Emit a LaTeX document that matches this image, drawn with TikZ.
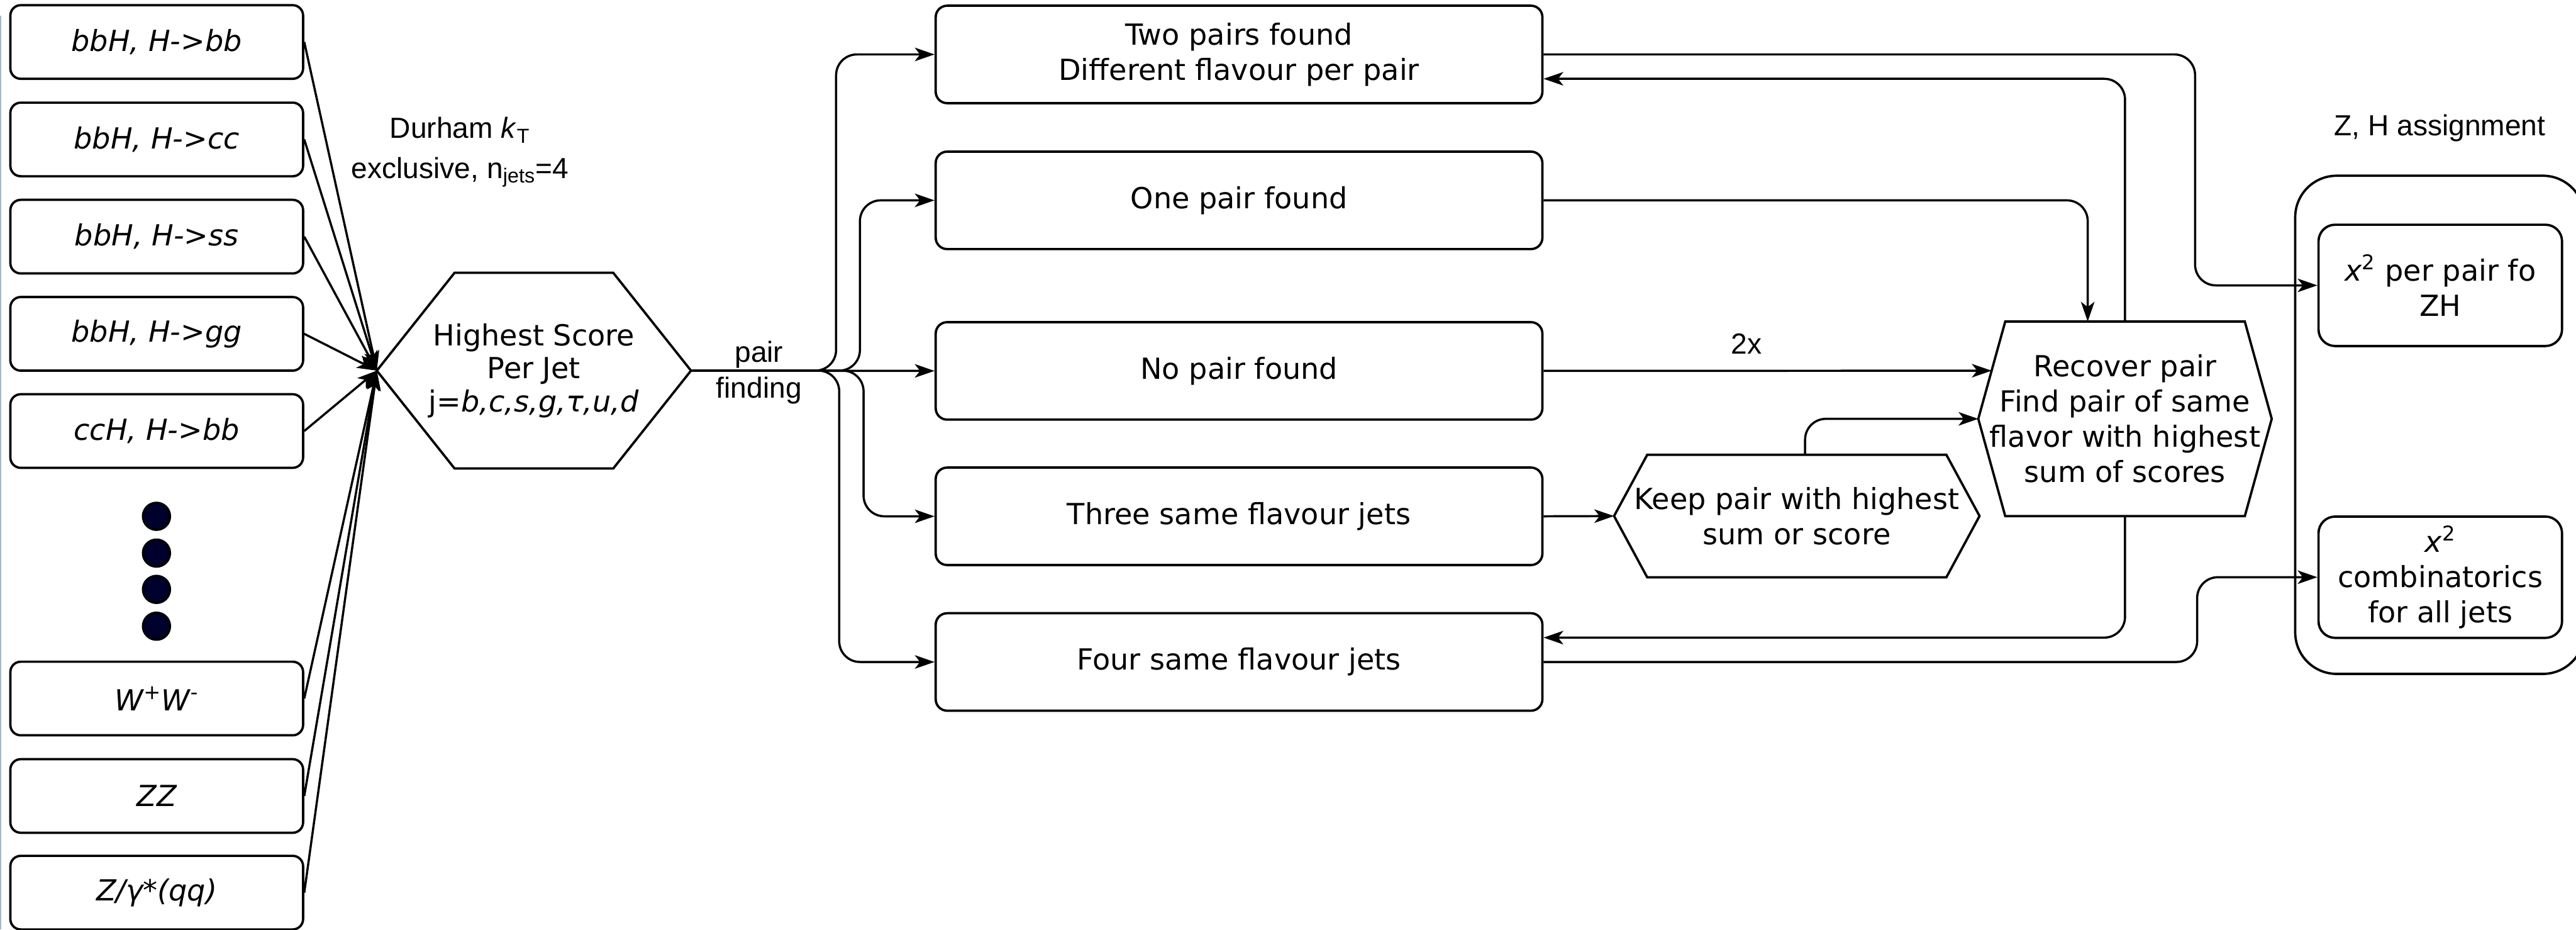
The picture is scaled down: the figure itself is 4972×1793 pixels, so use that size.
\documentclass[tikz,border=0pt]{standalone}
\usepackage{fontspec}
\setmainfont{DejaVu Sans}
\newfontfamily\labfont{Liberation Sans}
\usetikzlibrary{arrows.meta,calc}
\definecolor{navydot}{RGB}{0,0,45}
\definecolor{edgeart}{RGB}{160,185,205}
\newcommand\bxf{\fontsize{15.94pt}{19.35pt}\selectfont}
\newcommand\bxs{\fontsize{15.94pt}{18.2pt}\selectfont}
\newcommand\lbf{\labfont\fontsize{15.94pt}{19.35pt}\selectfont}
\begin{document}
\begin{tikzpicture}[x=0.1mm,y=-0.1mm,
  ln/.style={line width=0.45mm},
  inbox/.style={draw, line width=0.45mm, rounded corners=2mm, minimum width=56.5mm, minimum height=14.2mm, inner sep=0pt, font=\bxf\itshape, align=center},
  midbox/.style={draw, line width=0.45mm, rounded corners=2.2mm, minimum width=117.1mm, minimum height=18.8mm, inner sep=0pt, font=\bxf, align=center},
  zhb/.style={draw, line width=0.45mm, rounded corners=3.2mm, minimum width=47mm, minimum height=23.4mm, inner sep=0pt, font=\bxf, align=center},
  hexn/.style={inner sep=0pt, font=\bxf, align=center},
  conn/.style={line width=0.42mm, -{Stealth[length=3.8mm,width=2.6mm,inset=1mm]}, rounded corners=4mm},
  lab/.style={font=\lbf, inner sep=0pt},
  dotn/.style={circle, draw, line width=0.45mm, fill=navydot, minimum size=5.2mm, inner sep=0pt}
]
\useasboundingbox (0,0) rectangle (4972,1793);
\clip (0,0) rectangle (4972,1793);
\fill[white] (0,0) rectangle (4972,1793);
\draw[line width=0.3mm, edgeart] (1.5,30) -- (1.5,1793);

% input samples
\node[inbox] (b1) at (302.5,81) {bbH, H->bb};
\node[inbox] (b2) at (302.5,269) {bbH, H->cc};
\node[inbox] (b3) at (302.5,456.5) {bbH, H->ss};
\node[inbox] (b4) at (302.5,644) {bbH, H->gg};
\node[inbox] (b5) at (302.5,831.5) {ccH, H->bb};
\node[inbox] (b6) at (302.5,1347.5) {W\textsuperscript{+}W\textsuperscript{-}};
\node[inbox] (b7) at (302.5,1535.5) {ZZ};
\node[inbox] (b8) at (302.5,1722) {Z/γ*(qq)};
\node[dotn] (d1) at (302,996) {};
\node[dotn] (d2) at (302,1067) {};
\node[dotn] (d3) at (302,1137) {};
\node[dotn] (d4) at (302,1208) {};

% highest score hexagon
\node[hexn, font=\bxs, minimum width=60.5mm, minimum height=37.6mm] (score) at (1030.5,715) {Highest Score\\Per Jet\\j=\textit{b,c,s,g,τ,u,d}};
\draw[ln] (score.west) -- ($(score.north west)+(150,0)$) -- ($(score.north east)+(-150,0)$) -- (score.east) -- ($(score.south east)+(-150,0)$) -- ($(score.south west)+(150,0)$) -- cycle;

\node[lab, anchor=base] (dur1) at (888,267) {Durham \textit{k}\textsubscript{T}};
\node[lab, anchor=base] (dur2) at (888,344) {exclusive, n\textsubscript{jets}=4};
\node[lab, anchor=base] (pf1) at (1465,698) {pair};
\node[lab, anchor=base] (pf2) at (1465,768) {finding};

% middle boxes
\node[midbox] (two) at (2391.5,105) {Two pairs found\\Different flavour per pair};
\node[midbox] (one) at (2391.5,386.5) {One pair found};
\node[midbox] (none) at (2391.5,715.5) {No pair found};
\node[midbox] (three) at (2391.5,996) {Three same flavour jets};
\node[midbox] (four) at (2391.5,1277) {Four same flavour jets};

% keep hexagon
\node[hexn, minimum width=70.4mm, minimum height=23.5mm] (keep) at (3468,995.5) {Keep pair with highest\\sum or score};
\draw[ln] (keep.west) -- ($(keep.north west)+(64,0)$) -- ($(keep.north east)+(-64,0)$) -- (keep.east) -- ($(keep.south east)+(-64,0)$) -- ($(keep.south west)+(64,0)$) -- cycle;

% recover hexagon
\node[hexn, minimum width=56.5mm, minimum height=37.4mm] (recover) at (4101.5,808) {Recover pair\\Find pair of same\\flavor with highest\\sum of scores};
\draw[ln] (recover.west) -- ($(recover.north west)+(52,0)$) coordinate (rNW) -- ($(recover.north east)+(-52,0)$) -- (recover.east) -- ($(recover.south east)+(-52,0)$) -- ($(recover.south west)+(52,0)$) -- cycle;
\coordinate (rin) at ($(recover.west)!0.495!(rNW)$);

\node[lab, anchor=base] (twox) at (3371,683) {2x};

% Z,H assignment
\node[lab, anchor=base] (zhlab) at (4709,262) {Z, H assignment};
\draw[ln, rounded corners=8mm] (4430,339) rectangle (4988,1300);
\node[zhb] (zh) at (4710,550.5) {\textit{x}\textsuperscript{2} per pair fo\\ZH};
\node[zhb] (comb) at (4710,1113.5) {\textit{x}\textsuperscript{2}\\combinatorics\\for all jets};

% connectors
\foreach \b in {b1,b2,b3,b4,b5,b6,b7,b8} \draw[conn] (\b.east) -- (score.west);
\draw[conn] (score.east) -| ([xshift=-19mm]two.west) -- (two.west);
\draw[conn] (score.east) -| ([xshift=-14.4mm]one.west) -- (one.west);
\draw[conn] (score.east) -- (none.west);
\draw[conn] (score.east) -| ([xshift=-13.7mm]three.west) -- (three.west);
\draw[conn] (score.east) -| ([xshift=-18.4mm]four.west) -- (four.west);

\draw[conn] (two.east) -| ([xshift=-23.6mm]zh.west) -- (zh.west);
\draw[conn] (recover.north) |- ([yshift=-4.7mm]two.east);
\draw[conn] (one.east) -| ([xshift=-7.2mm]recover.north);
\draw[conn] (none.east) -- (rin);
\draw[conn] (three.east) -- (keep.west);
\draw[conn] ([xshift=1.6mm]keep.north) |- (recover.west);
\draw[conn] (recover.south) |- ([yshift=4.7mm]four.east);
\draw[conn] (four.east) -| ([xshift=-23.2mm]comb.west) -- (comb.west);
\end{tikzpicture}
\end{document}
